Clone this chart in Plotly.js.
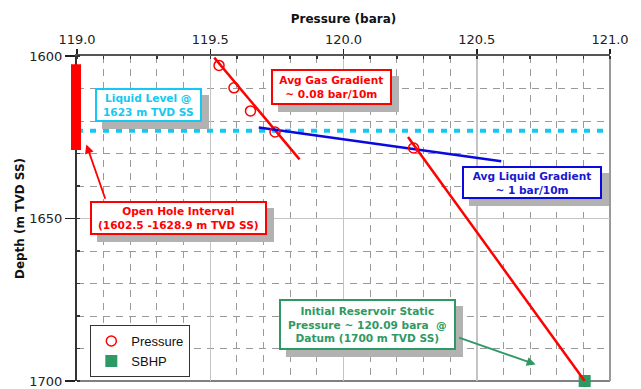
<!DOCTYPE html>
<html>
<head>
<meta charset="utf-8">
<script src="https://cdn.plot.ly/plotly-3.0.1.min.js"></script>
<style>
  html, body { margin: 0; padding: 0; background: #fff; }
  #chart { width: 641px; height: 389px; }
</style>
</head>
<body>
<div id="chart"></div>
<script>
// Measured pressure points (bara) against depth (m TVD SS)
const pressureP = [119.533, 119.589, 119.651, 119.743, 120.263];
const pressureD = [1602.9, 1609.8, 1616.9, 1623.4, 1628.3];

// Static bottom-hole pressure at datum
const sbhpP = [120.905];
const sbhpD = [1700];

// Gradient lines
const gasLineP = [119.515, 119.835];
const gasLineD = [1600.5, 1631.8];
const liquidLineP = [119.682, 120.592];
const liquidLineD = [1622.0, 1632.4];
const reservoirLineP = [120.242, 120.905];
const reservoirLineD = [1624.9, 1700];

// Liquid level and open-hole interval
const liquidLevelD = 1623;
const openHoleD = [1602.5, 1628.9];

// Axis ranges
const pressureRange = [119.0, 121.0];
const depthRange = [1700, 1600];

const FONT = 'DejaVu Sans, Verdana, sans-serif';
const RED = '#ff0000';
const BLUE = '#0a0ae0';
const CYAN = '#14c8f2';
const GREEN = '#2f9964';

const traces = [
  {
    x: sbhpP, y: sbhpD, name: 'SBHP', mode: 'markers', legendrank: 2,
    cliponaxis: false,
    marker: { symbol: 'square', size: 12, color: GREEN }
  },
  {
    x: [pressureRange[0], pressureRange[1]], y: [liquidLevelD, liquidLevelD],
    mode: 'lines', showlegend: false, hoverinfo: 'skip',
    line: { color: CYAN, width: 4, dash: '6px,7px' }
  },
  {
    x: gasLineP, y: gasLineD, mode: 'lines', showlegend: false,
    line: { color: RED, width: 2.5 }
  },
  {
    x: liquidLineP, y: liquidLineD, mode: 'lines', showlegend: false,
    line: { color: BLUE, width: 2.5 }
  },
  {
    x: reservoirLineP, y: reservoirLineD, mode: 'lines', showlegend: false,
    line: { color: RED, width: 2.5 }
  },
  {
    x: pressureP, y: pressureD, name: 'Pressure', mode: 'markers', legendrank: 1,
    marker: { symbol: 'circle-open', size: 10, color: RED, line: { color: RED, width: 1.5 } }
  }
];

// Boxed callouts with an offset drop shadow
const boxes = [
  { text: 'Liquid Level @<br>1623 m TVD SS', x: 119.269, y: 1615.2, w: 100.6, h: 28.3, border: CYAN, color: CYAN },
  { text: 'Avg Gas Gradient<br>~ 0.08 bar/10m', x: 119.956, y: 1609.4, w: 114.6, h: 30, border: RED, color: RED },
  { text: 'Avg Liquid Gradient<br>~ 1 bar/10m', x: 120.709, y: 1639.0, w: 134, h: 27.3, border: BLUE, color: '#1818d0' },
  { text: 'Open Hole Interval<br>(1602.5 -1628.9 m TVD SS)', x: 119.382, y: 1649.7, w: 170.6, h: 28.3, border: RED, color: RED },
  { text: 'Initial Reservoir Static<br>Pressure ~ 120.09 bara  @<br>Datum (1700 m TVD SS)', x: 120.090, y: 1682.7, w: 170.7, h: 45, border: GREEN, color: GREEN }
];

const annotations = [];
// shadows first so the boxes sit on top of them
boxes.forEach(b => {
  annotations.push({
    xref: 'x', yref: 'y', x: b.x, y: b.y, text: ' ', showarrow: false,
    xanchor: 'center', yanchor: 'middle', xshift: 7, yshift: -7,
    width: b.w, height: b.h, borderpad: 1, borderwidth: 2,
    bgcolor: '#b2b2b2', bordercolor: '#b2b2b2',
    font: { family: FONT, size: 10.6, color: '#b2b2b2' }
  });
});
boxes.forEach(b => {
  annotations.push({
    xref: 'x', yref: 'y', x: b.x, y: b.y, text: b.text, showarrow: false,
    xanchor: 'center', yanchor: 'middle',
    width: b.w, height: b.h, borderpad: 1, borderwidth: 2,
    bgcolor: '#ffffff', bordercolor: b.border,
    font: { family: FONT, size: 10.6, color: b.color, weight: 'bold' }
  });
});

// Pointer arrows
annotations.push({
  xref: 'x', yref: 'y', axref: 'x', ayref: 'y',
  x: 119.035, y: 1627.2, ax: 119.108, ay: 1644.4, text: '',
  showarrow: true, arrowhead: 2, arrowsize: 1, arrowwidth: 1.8, arrowcolor: RED
});
annotations.push({
  xref: 'x', yref: 'y', axref: 'x', ayref: 'y',
  x: 120.721, y: 1694.9, ax: 120.428, ay: 1686.5, text: '',
  showarrow: true, arrowhead: 2, arrowsize: 1, arrowwidth: 1.8, arrowcolor: GREEN
});

const layout = {
  width: 641, height: 389,
  margin: { l: 77, r: 31, t: 56, b: 8 },
  paper_bgcolor: '#ffffff', plot_bgcolor: '#ffffff',
  font: { family: FONT, size: 13, color: '#222' },
  showlegend: true,
  legend: {
    x: 0.025, y: 0.172, xanchor: 'left', yanchor: 'top',
    bgcolor: '#ffffff', bordercolor: '#333', borderwidth: 1,
    font: { family: 'Liberation Sans, Arial, sans-serif', size: 13, color: '#111' },
    tracegroupgap: 0, itemwidth: 30
  },
  xaxis: {
    side: 'top', range: pressureRange, tick0: 119, dtick: 0.5, tickformat: '.1f',
    title: { text: 'Pressure (bara)', font: { family: FONT, size: 12, weight: 'bold', color: '#111' }, standoff: 6 },
    ticks: 'outside', ticklen: 5, tickwidth: 1.5, tickcolor: '#222',
    showline: true, linecolor: '#555', linewidth: 2,
    showgrid: true, gridcolor: '#c4c4c4', gridwidth: 1.5,
    zeroline: false,
    tickfont: { family: FONT, size: 13, color: '#222' },
    minor: { dtick: 0.1, ticks: 'inside', ticklen: 3, tickcolor: '#333',
             showgrid: true, gridcolor: '#9a9a9a', gridwidth: 1, griddash: '7px,6px' }
  },
  yaxis: {
    range: depthRange, tick0: 1600, dtick: 50,
    title: { text: 'Depth (m TVD SS)', font: { family: FONT, size: 12, weight: 'bold', color: '#111' }, standoff: 2 },
    ticks: 'outside', ticklen: 10, tickwidth: 1.5, tickcolor: '#222',
    showline: true, linecolor: '#333', linewidth: 2,
    showgrid: true, gridcolor: '#c4c4c4', gridwidth: 1.5,
    zeroline: false,
    tickfont: { family: FONT, size: 13, color: '#222' },
    minor: { dtick: 10, ticks: 'inside', ticklen: 3, tickcolor: '#333',
             showgrid: true, gridcolor: '#9a9a9a', gridwidth: 1, griddash: '7px,6px' }
  },
  shapes: [
    // open-hole interval bar on the depth axis
    { type: 'rect', xref: 'paper', yref: 'y', xsizemode: 'pixel', xanchor: 0,
      x0: -6, x1: 4, y0: openHoleD[0], y1: openHoleD[1],
      fillcolor: RED, line: { width: 0 }, layer: 'above' },
    // frame: bottom and right edges
    { type: 'line', xref: 'paper', yref: 'paper', x0: 0, x1: 1, y0: 0, y1: 0,
      line: { color: '#808080', width: 2 }, layer: 'below' },
    { type: 'line', xref: 'paper', yref: 'paper', x0: 1, x1: 1, y0: 0, y1: 1,
      line: { color: '#999999', width: 2 }, layer: 'below' }
  ],
  annotations: annotations
};

Plotly.newPlot('chart', traces, layout, { displayModeBar: false, staticPlot: true });
</script>
</body>
</html>
